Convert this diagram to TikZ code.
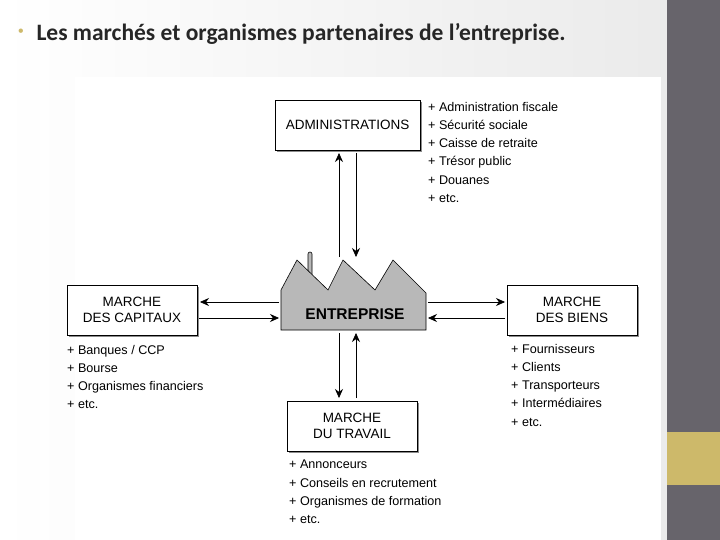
\documentclass[tikz,border=0pt]{standalone}
\usepackage{fontspec}
\setmainfont{Liberation Sans}
\newfontfamily\titlefont{Carlito}
\usetikzlibrary{arrows.meta}
\definecolor{bar}{HTML}{67646B}
\definecolor{gold}{HTML}{CDB96A}
\begin{document}
\begin{tikzpicture}[x=1pt,y=-1pt,
  mbox/.style={draw=black,fill=white,minimum width=#1,minimum height=50pt,align=center,inner sep=0pt,font=\fontsize{13.5}{16}\selectfont,
    preaction={fill=black!45,transform canvas={xshift=2pt,yshift=-2pt}}},
  lst/.style={anchor=north west,align=left,inner sep=0pt,font=\fontsize{12.6}{18.2}\selectfont},
  arr/.style={-{Stealth[length=9pt,width=8pt]},line width=0.6pt}]
\useasboundingbox (0,0) rectangle (720,540);
\shade[left color=white,right color=black!8] (0,0) rectangle (667,540);
\fill[white] (75,77) rectangle (661,540);
\fill[bar] (667,0) rectangle (720,540);
\fill[gold] (667,432) rectangle (720,485);
\node[text=gold,font=\fontsize{16}{18}\selectfont] (bul) at (21,33) {•};
\node[anchor=west,font=\titlefont\bfseries\fontsize{23.5}{26}\selectfont,text=black!85] (title) at (33,34) {Les marchés et organismes partenaires de l’entreprise.};
% boxes
\node[mbox=145pt] (adm) at (347.5,125) {ADMINISTRATIONS};
\node[mbox=130pt] (cap) at (132,310) {MARCHE\\DES CAPITAUX};
\node[mbox=130pt] (bie) at (572,310) {MARCHE\\DES BIENS};
\node[mbox=130pt] (tra) at (352,426) {MARCHE\\DU TRAVAIL};
% factory
\filldraw[fill=black!28,draw=black,line width=0.6pt] (308,290) -- (308,254) arc(180:0:2pt) -- (312,290) -- cycle;
\filldraw[fill=black!28,draw=black,line width=0.6pt]
  (281,330) -- (281,290) -- (297,260) -- (328,290) -- (343,260) -- (375,290) -- (393,260) -- (426,293) -- (426,330) -- cycle;
\fill[black!28] (308.5,285) rectangle (311.5,292);
\node[font=\bfseries\fontsize{15.5}{17}\selectfont] (ent) at (355,314) {ENTREPRISE};
% connectors
\draw[arr] (339,257) -- (339,153);
\draw[arr] (356,153) -- (356,257);
\draw[arr] (356,398) -- (356,333);
\draw[arr] (339,333) -- (339,398);
\draw[arr] (279,302) -- (200,302);
\draw[arr] (199,318) -- (279,318);
\draw[arr] (428,302) -- (505,302);
\draw[arr] (505,318) -- (428,318);
% lists
\node[lst] (l1) at (428,102) {+ Administration fiscale\\+ Sécurité sociale\\+ Caisse de retraite\\+ Trésor public\\+ Douanes\\+ etc.};
\node[lst] (l2) at (67,345) {+ Banques / CCP\\+ Bourse\\+ Organismes financiers\\+ etc.};
\node[lst] (l3) at (511,344) {+ Fournisseurs\\+ Clients\\+ Transporteurs\\+ Intermédiaires\\+ etc.};
\node[lst] (l4) at (289,460) {+ Annonceurs\\+ Conseils en recrutement\\+ Organismes de formation\\+ etc.};
\end{tikzpicture}
\end{document}
